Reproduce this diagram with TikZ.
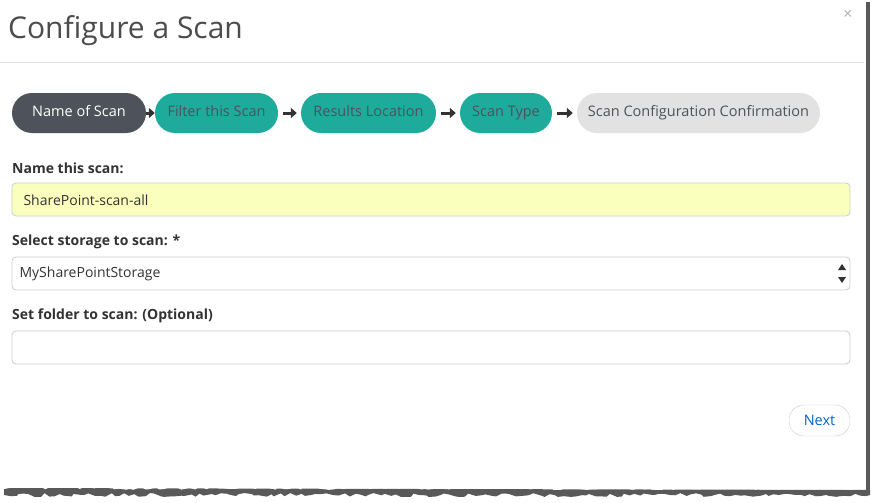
\documentclass[tikz,border=0pt]{standalone}
\usepackage{fontspec}
\setmainfont{Open Sans}
\usetikzlibrary{decorations.pathmorphing,arrows.meta}
\definecolor{teal}{HTML}{1FAB9C}
\definecolor{dark}{HTML}{4D525B}
\definecolor{lgray}{HTML}{E2E2E2}
\definecolor{txt}{HTML}{333333}
\definecolor{yel}{HTML}{FAFFBD}
\definecolor{bord}{HTML}{CCCCCC}
\begin{document}
\begin{tikzpicture}[x=1pt,y=-1pt,
 stp/.style={rounded corners=20pt,minimum height=40pt,inner sep=0pt,text height=10pt,text depth=3pt,font=\fontsize{14.5}{16}\selectfont,text=dark},
 lab/.style={anchor=west,font=\bfseries\fontsize{14}{16}\selectfont,text=txt,inner sep=0pt},
 field/.style={draw=bord,rounded corners=4pt,line width=0.8pt},
 arr/.style={-{Triangle[length=6pt,width=10pt]},line width=3pt,draw=txt}]
\useasboundingbox (0,0) rectangle (875,503);
\fill[black!65] (866,2) rectangle (870,490);
\fill[black!65,decorate,decoration={random steps,segment length=5pt,amplitude=2pt}] (870,490) -- (870,495) -- (4,495) -- (4,488);
\fill[white] (0,0) rectangle (865,484);
\fill[white,decorate,decoration={random steps,segment length=5pt,amplitude=2pt}] (0,483) -- (0,488) -- (865,488) -- (865,483);
\node[anchor=base west,inner sep=0pt,font=\fontsize{30}{34}\selectfont,text=black!70] (title) at (8,38) {Configure a Scan};
\node[font=\fontsize{16}{16}\selectfont,text=black!30] (close) at (848,15) {×};
\draw[black!12,line width=1pt] (0,63) coordinate (l1) -- (864,63) coordinate (l2);
\node[stp,fill=dark,text=white,minimum width=134pt] (s1) at (79,113) {Name of Scan};
\node[stp,fill=teal,minimum width=123pt] (s2) at (216.5,113) {Filter this Scan};
\node[stp,fill=teal,minimum width=135pt] (s3) at (368.5,113) {Results Location};
\node[stp,fill=teal,minimum width=92pt] (s4) at (506,113) {Scan Type};
\node[stp,fill=lgray,minimum width=243pt] (s5) at (698.5,113) {Scan Configuration Confirmation};
\draw[arr] (s1.east) -- (s2.west);
\draw[arr] ([xshift=5pt]s2.east) -- ([xshift=-4pt]s3.west);
\draw[arr] ([xshift=5pt]s3.east) -- ([xshift=-4pt]s4.west);
\draw[arr] ([xshift=5pt]s4.east) -- ([xshift=-4pt]s5.west);
\node[lab] (l1t) at (12,168) {Name this scan:};
\draw[field,fill=yel] (12,183) rectangle (850,216);
\node[anchor=west,font=\fontsize{14}{16}\selectfont,text=txt] (v1) at (20,200) {SharePoint-scan-all};
\node[lab] (l2t) at (12,242) {Select storage to scan: *};
\draw[field,fill=white] (12,257) rectangle (850,290);
\node[anchor=west,font=\fontsize{14}{16}\selectfont,text=txt] (v2) at (16,274) {MySharePointStorage};
\fill[txt] (838,270) -- (846,270) -- (842,264) -- cycle (838,277) -- (846,277) -- (842,283) -- cycle;
\node[lab] (l3t) at (12,316) {Set folder to scan: (Optional)};
\draw[field,fill=white] (12,331) rectangle (850,364);
\node[draw=bord,rounded corners=15pt,minimum width=61pt,minimum height=31pt,inner sep=0pt,font=\fontsize{14.5}{16}\selectfont,text=blue!50!cyan!80!black] (next) at (819.5,420.5) {Next};
\end{tikzpicture}
\end{document}
